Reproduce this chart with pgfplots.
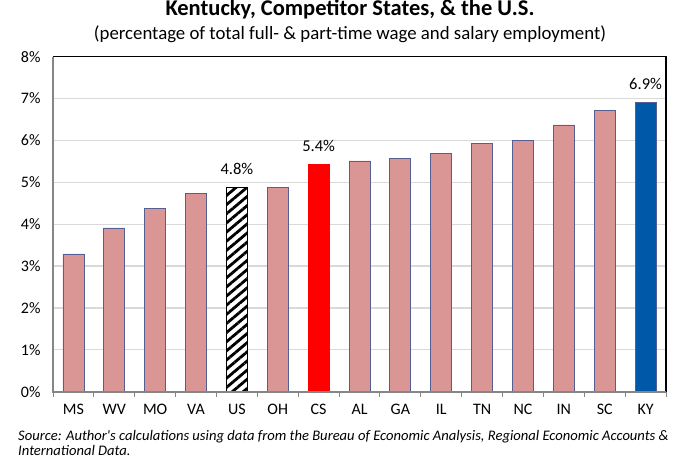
\documentclass[border=0pt]{standalone}
\usepackage{pgfplots}
\pgfplotsset{compat=1.18}
\usepackage{fontspec}
\setmainfont{Carlito}
\usetikzlibrary{patterns.meta}
\definecolor{barpink}{RGB}{217,150,148}
\definecolor{barline}{RGB}{85,95,145}
\definecolor{kyblue}{RGB}{0,88,168}
\definecolor{gridgray}{RGB}{217,217,217}
\definecolor{axgray}{RGB}{134,134,134}

\begin{document}
\begin{tikzpicture}[x=1pt,y=1pt]
  \begin{axis}[
      at={(0,0)}, anchor=south west,
      scale only axis,
      width=613pt, height=335pt,
      xmin=-0.5, xmax=14.5,
      ymin=0, ymax=8,
      ytick={0,1,...,8},
      yticklabel={\pgfmathprintnumber{\tick}\%},
      /pgf/number format/assume math mode=true,
      xtick={0,...,14},
      xticklabels={MS,WV,MO,VA,US,OH,CS,AL,GA,IL,TN,NC,IN,SC,KY},
      minor xtick={-0.5,0.5,...,14.5},
      major tick length=0pt,
      minor tick length=5pt,
      tick align=outside,
      every minor tick/.style={axgray, line width=1pt},
      xtick pos=bottom, ytick pos=left,
      ymajorgrids,
      grid style={gridgray, line width=1.3pt},
      minor grid style={draw=none},
      axis line style={draw=none},
      tick label style={font=\fontsize{16}{18}\selectfont},
      xticklabel style={yshift=-9pt},
      yticklabel style={xshift=-9pt},
      ybar, bar width=21pt, bar shift=0pt,
      nodes near coords style={font=\fontsize{16.5}{18}\selectfont, yshift=9pt},
      clip=false,
    ]
    \addplot[fill=barpink, draw=barline, line width=0.8pt] coordinates {
      (0,3.29) (1,3.91) (2,4.37) (3,4.73) (5,4.87)
      (7,5.51) (8,5.58) (9,5.68) (10,5.92) (11,6.01)
      (12,6.37) (13,6.71)
    };
    \addplot[fill=white, draw=black, line width=0.6pt,
      postaction={pattern={Lines[angle=40, distance=7pt, line width=2.8pt]}, pattern color=black},
      nodes near coords={4.8\%}] coordinates {(4,4.87)};
    \addplot[fill=red, draw=red, line width=0.6pt,
      nodes near coords={5.4\%}] coordinates {(6,5.42)};
    \addplot[fill=kyblue, draw=barline, line width=0.8pt,
      nodes near coords={6.9\%}] coordinates {(14,6.92)};
    \draw[black, line width=1.3pt] (rel axis cs:0,1) -- (rel axis cs:1,1) -- (rel axis cs:1,0);
    \draw[axgray, line width=1.8pt] (rel axis cs:0,1) -- (rel axis cs:0,0) -- (rel axis cs:1,0);
  \end{axis}
  % page frame: axis box sits at (53,390) from top-left of a 684x457 page
  \path (-53,-67) rectangle (631,390);
  \node[font=\fontsize{22.5}{24}\selectfont\bfseries, inner sep=0pt] at (297,382) {Kentucky, Competitor States, \& the U.S.};
  \node[font=\fontsize{18.8}{20}\selectfont, inner sep=0pt] at (297,357) {(percentage of total full- \& part-time wage and salary employment)};
  \node[font=\fontsize{14.6}{15.5}\selectfont\itshape, anchor=north west, align=left, inner sep=0pt]
    at (-35,-38) {Source: Author\textquotesingle s calculations using data from the Bureau of Economic Analysis, Regional Economic Accounts \&\\International Data.};
\end{tikzpicture}
\end{document}
